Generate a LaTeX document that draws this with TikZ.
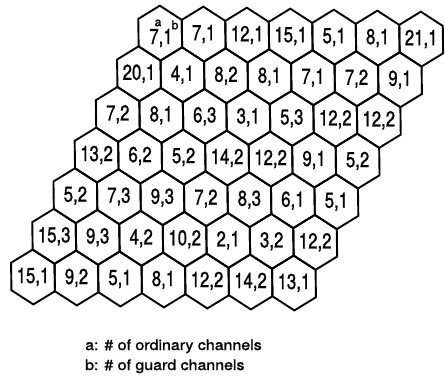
\documentclass[tikz,border=0pt]{standalone}
\usepackage{fontspec}
\setmainfont{TeX Gyre Heros}
\newfontfamily\heavyfont[FakeBold=1.2]{TeX Gyre Heros}
\usepackage{graphicx}
\tikzset{
  hexline/.style={draw=black, line width=1.9pt},
  lab/.style={font=\heavyfont\fontsize{21.5}{21.5}\selectfont, inner sep=0pt},
  suplab/.style={font=\heavyfont\fontsize{12}{12}\selectfont, inner sep=0pt},
  captext/.style={font=\heavyfont\fontsize{14.5}{14.5}\selectfont, inner sep=0pt, anchor=base west}
}
\newcommand{\nlab}[1]{\scalebox{0.78}[1]{#1}}
\begin{document}
\begin{tikzpicture}[x=1pt,y=1pt]
\useasboundingbox (0,0) rectangle (445,-381);
\begin{scope}[shift={(33,-277)}, x={(43.5pt,-1pt)}, y={(21.2pt,40.65pt)}]
\foreach \row [count=\r from 0] in {
  {7/1,7/1,12/1,15/1,5/1,8/1,21/1},
  {20/1,4/1,8/2,8/1,7/1,7/2,9/1},
  {7/2,8/1,6/3,3/1,5/3,12/2,12/2},
  {13/2,6/2,5/2,14/2,12/2,9/1,5/2},
  {5/2,7/3,9/3,7/2,8/3,6/1,5/1},
  {15/3,9/3,4/2,10/2,2/1,3/2,12/2},
  {15/1,9/2,5/1,8/1,12/2,14/2,13/1}}{
  \foreach \a/\b [count=\c from 0] in \row {
    \pgfmathtruncatemacro\k{6-\r}
    \draw[hexline] (\c+1/3,\k+1/3) -- (\c-1/3,\k+2/3) -- (\c-2/3,\k+1/3)
      -- (\c-1/3,\k-1/3) -- (\c+1/3,\k-2/3) -- (\c+2/3,\k-1/3) -- cycle;
    \ifnum\r\c=0 \else
      \node[lab] (n\r\c) at (\c,\k) {\nlab{\a,\b}};
    \fi
  }
}
\end{scope}
\node[lab] (n00) at (161,-38) {\nlab{7,1}};
\node[suplab] (supa) at (158,-23) {a};
\node[suplab] (supb) at (175,-25) {b};
\node[captext] (capa) at (85,-350) {\scalebox{1.1}[1]{a: \# of ordinary channels}};
\node[captext] (capb) at (85,-370) {\scalebox{1.1}[1]{b: \# of guard channels}};
\end{tikzpicture}
\end{document}
